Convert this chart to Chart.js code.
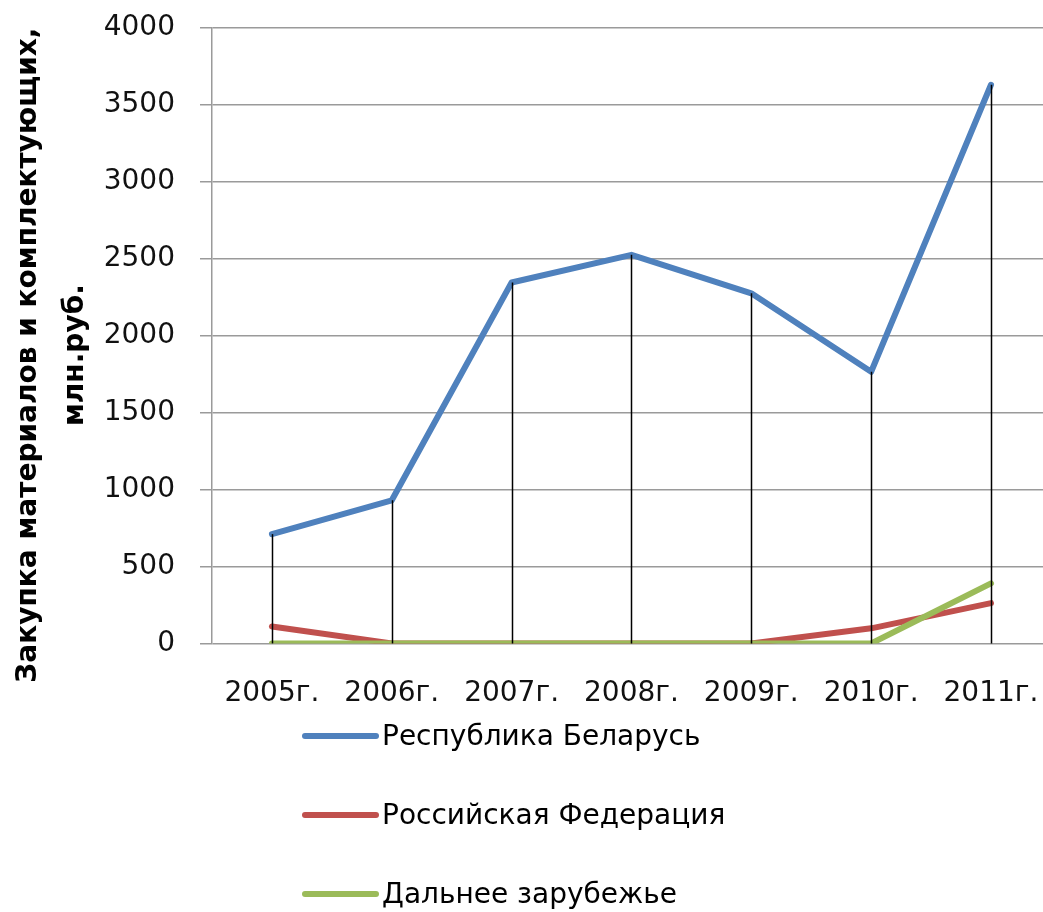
<!DOCTYPE html>
<html>
<head>
<meta charset="utf-8">
<script src="https://cdn.jsdelivr.net/npm/chart.js@4.4.1/dist/chart.umd.min.js"></script>
<style>
  html, body { margin: 0; padding: 0; background: #fff; overflow: hidden; }
  canvas { display: block; margin-top: -14px; }
</style>
</head>
<body>
<canvas id="myLineChart" width="1073" height="926"></canvas>
<script>
// chart data
var years = ['2005г.', '2006г.', '2007г.', '2008г.', '2009г.', '2010г.', '2011г.'];
var belarus = [710, 930, 2345, 2525, 2275, 1765, 3630];
var russia = [110, 0, 0, 0, 0, 98, 262];
var abroad = [0, 0, 0, 0, 0, 0, 390];
var seriesNames = ['Республика Беларусь', 'Российская Федерация', 'Дальнее зарубежье'];
var seriesColors = ['#4f81bd', '#c0504d', '#9bbb59'];
var yTicks = [0, 500, 1000, 1500, 2000, 2500, 3000, 3500, 4000];

var fontName = '"DejaVu Sans", sans-serif';

// black drop lines from the highest point down to zero
var dropLines = {
    id: 'dropLines',
    afterDatasetsDraw: function(chart) {
        var ctx = chart.ctx;
        var x = chart.scales.x;
        var y = chart.scales.y;
        ctx.save();
        ctx.strokeStyle = '#000';
        ctx.lineWidth = 1.5;
        years.forEach(function(label, i) {
            var top = Math.max(belarus[i], russia[i], abroad[i]);
            var px = Math.round(x.getPixelForValue(i)) + 0.5;
            ctx.beginPath();
            ctx.moveTo(px, y.getPixelForValue(top));
            ctx.lineTo(px, y.getPixelForValue(0));
            ctx.stroke();
        });
        ctx.restore();
    }
};

// legend as a vertical list under the axis labels
var listLegend = {
    id: 'listLegend',
    afterDraw: function(chart) {
        var ctx = chart.ctx;
        ctx.save();
        ctx.font = '28px ' + fontName;
        ctx.textBaseline = 'middle';
        ctx.fillStyle = '#000';
        chart.data.datasets.forEach(function(ds, i) {
            var rowY = 750 + i * 79;
            ctx.strokeStyle = ds.borderColor;
            ctx.lineWidth = 6;
            ctx.lineCap = 'round';
            ctx.beginPath();
            ctx.moveTo(305, rowY);
            ctx.lineTo(376, rowY);
            ctx.stroke();
            ctx.fillText(ds.label, 382, rowY + 2);
        });
        ctx.restore();
    }
};

var ctx = document.getElementById('myLineChart').getContext('2d');

var myLineChart = new Chart(ctx, {
    type: 'line',
    data: {
        labels: years,
        datasets: [
            { label: seriesNames[0], data: belarus, borderColor: seriesColors[0], order: 2 },
            { label: seriesNames[1], data: russia, borderColor: seriesColors[1], order: 1 },
            { label: seriesNames[2], data: abroad, borderColor: seriesColors[2], order: 0 }
        ]
    },
    options: {
        responsive: false,
        animation: false,
        layout: {
            padding: { top: 14, right: 8, bottom: 167, left: 0 }
        },
        elements: {
            line: { borderWidth: 6, tension: 0, borderCapStyle: 'round', borderJoinStyle: 'round' },
            point: { radius: 0, hoverRadius: 0 }
        },
        plugins: {
            legend: { display: false },
            tooltip: { enabled: false }
        },
        scales: {
            x: {
                offset: true,
                grid: { display: false, drawTicks: false },
                border: { display: false },
                ticks: {
                    color: '#111',
                    padding: 34,
                    maxRotation: 0,
                    font: { family: fontName, size: 28 }
                }
            },
            y: {
                min: 0,
                max: 4000,
                afterFit: function(scale) { scale.width = 212; },
                afterBuildTicks: function(scale) {
                    scale.ticks = yTicks.map(function(v) { return { value: v }; });
                },
                grid: { color: '#9a9a9a', lineWidth: 1.5, tickLength: 12 },
                border: { color: '#9a9a9a', width: 1.5 },
                ticks: {
                    color: '#111',
                    padding: 25,
                    font: { family: fontName, size: 28 },
                    callback: function(v) { return String(v); }
                },
                title: {
                    display: true,
                    // trailing spaces nudge the rotated title down a little
                    text: ['Закупка материалов и комплектующих,    ', 'млн.руб.    '],
                    color: '#000',
                    padding: { top: 5, bottom: 0 },
                    font: { family: fontName, size: 28, weight: 'bold', lineHeight: 1.68 }
                }
            }
        }
    },
    plugins: [dropLines, listLegend]
});
</script>
</body>
</html>
